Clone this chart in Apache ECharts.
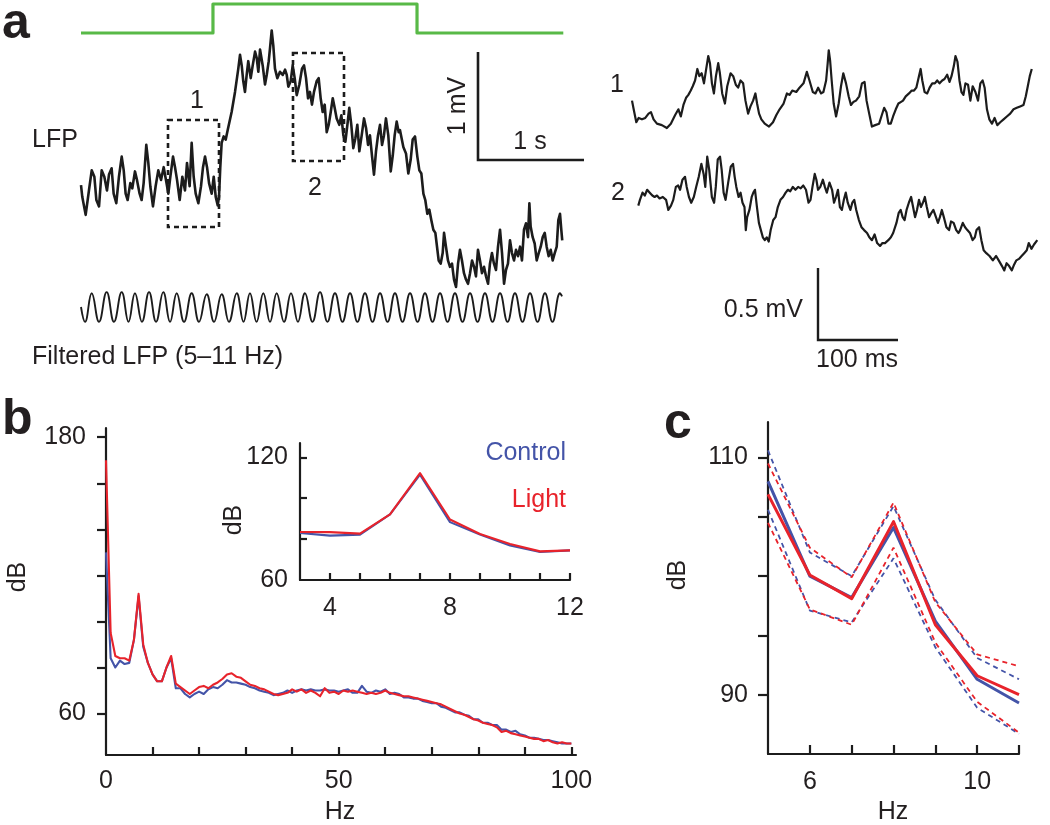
<!DOCTYPE html>
<html><head><meta charset="utf-8">
<script src="https://cdn.jsdelivr.net/npm/echarts@6/dist/echarts.min.js"></script>
<style>html,body{margin:0;padding:0;background:#fff}#c{width:1050px;height:825px}</style>
</head><body><div id="c"></div>
<script>
// ---------- DATA ----------
// Panel a: light stimulus (0 = off, 1 = on), time in s
const lightT = [0, 1.245, 1.245, 3.17, 3.17, 4.55];
const lightOn = [0, 0, 1, 1, 0, 0];
// Panel a: raw LFP, [time s, mV]
const lfpTrace = [
[0.000,0.30],[0.012,0.19],[0.044,0.02],[0.075,0.25],[0.101,0.44],[0.126,0.38],[0.145,0.16],[0.170,0.10],[0.195,0.44],[0.220,0.38],
[0.245,0.25],[0.264,0.40],[0.289,0.46],[0.308,0.22],[0.333,0.13],[0.358,0.38],[0.384,0.57],[0.403,0.44],[0.421,0.22],[0.440,0.16],
[0.465,0.32],[0.484,0.27],[0.509,0.43],[0.528,0.35],[0.553,0.22],[0.572,0.16],[0.591,0.32],[0.616,0.68],[0.635,0.51],[0.654,0.29],
[0.679,0.10],[0.704,0.29],[0.729,0.44],[0.755,0.35],[0.780,0.47],[0.805,0.33],[0.824,0.22],[0.843,0.38],[0.868,0.57],[0.887,0.47],
[0.906,0.35],[0.931,0.16],[0.956,0.38],[0.981,0.25],[1.000,0.51],[1.025,0.29],[1.044,0.70],[1.063,0.38],[1.082,0.22],[1.107,0.13],
[1.132,0.29],[1.151,0.47],[1.170,0.57],[1.189,0.47],[1.208,0.32],[1.233,0.22],[1.252,0.38],[1.271,0.19],[1.290,0.11],[1.302,0.19],
[1.314,0.47],[1.327,0.70],[1.346,0.76],[1.365,0.73],[1.384,0.82],[1.421,0.99],[1.453,1.18],[1.484,1.40],[1.500,1.53],[1.516,1.43],
[1.531,1.28],[1.547,1.18],[1.563,1.34],[1.578,1.47],[1.601,1.31],[1.620,1.43],[1.642,1.56],[1.658,1.50],[1.673,1.37],[1.689,1.58],
[1.714,1.43],[1.736,1.25],[1.752,1.34],[1.771,1.47],[1.783,1.59],[1.799,1.76],[1.814,1.62],[1.830,1.40],[1.852,1.31],[1.877,1.37],
[1.903,1.34],[1.925,1.39],[1.941,1.34],[1.956,1.23],[1.978,1.28],[1.997,1.43],[2.016,1.31],[2.035,1.15],[2.060,1.25],[2.085,1.40],
[2.104,1.43],[2.123,1.31],[2.142,1.12],[2.160,1.18],[2.179,1.06],[2.198,1.18],[2.223,1.28],[2.242,1.31],[2.261,1.12],[2.280,0.99],
[2.299,1.06],[2.318,0.80],[2.337,0.87],[2.356,0.99],[2.375,1.12],[2.393,1.03],[2.412,0.93],[2.437,0.87],[2.456,0.96],[2.475,0.77],
[2.494,0.71],[2.513,0.87],[2.531,1.03],[2.550,0.87],[2.569,0.65],[2.588,0.74],[2.607,0.87],[2.626,0.62],[2.648,0.77],[2.670,0.93],
[2.689,0.84],[2.708,0.68],[2.726,0.77],[2.745,0.58],[2.764,0.40],[2.783,0.62],[2.802,0.77],[2.821,0.87],[2.840,0.68],[2.858,0.77],
[2.877,0.93],[2.899,0.77],[2.922,0.43],[2.941,0.58],[2.959,0.77],[2.978,0.90],[2.997,0.80],[3.009,0.82],[3.041,0.66],[3.066,0.60],
[3.088,0.41],[3.110,0.54],[3.129,0.73],[3.151,0.76],[3.173,0.57],[3.192,0.44],[3.211,0.41],[3.230,0.22],[3.248,0.16],[3.267,0.03],
[3.286,0.07],[3.305,-0.03],[3.324,-0.12],[3.343,-0.15],[3.355,-0.25],[3.374,-0.41],[3.393,-0.44],[3.412,-0.34],[3.425,-0.15],[3.443,-0.28],
[3.462,-0.41],[3.481,-0.47],[3.500,-0.44],[3.519,-0.59],[3.538,-0.66],[3.557,-0.44],[3.575,-0.31],[3.594,-0.41],[3.613,-0.53],[3.632,-0.59],
[3.651,-0.63],[3.670,-0.53],[3.689,-0.41],[3.708,-0.47],[3.726,-0.56],[3.745,-0.31],[3.764,-0.41],[3.783,-0.53],[3.802,-0.47],[3.821,-0.56],
[3.840,-0.63],[3.858,-0.44],[3.877,-0.34],[3.896,-0.44],[3.915,-0.50],[3.934,-0.28],[3.953,-0.12],[3.972,-0.34],[3.991,-0.63],[4.009,-0.50],
[4.028,-0.44],[4.047,-0.22],[4.066,-0.34],[4.085,-0.41],[4.104,-0.31],[4.123,-0.37],[4.142,-0.28],[4.160,-0.41],[4.179,-0.12],[4.198,-0.06],
[4.217,-0.19],[4.230,0.13],[4.242,-0.09],[4.261,-0.19],[4.280,-0.25],[4.299,-0.41],[4.318,-0.34],[4.337,-0.28],[4.356,-0.19],[4.375,-0.15],
[4.393,-0.28],[4.412,-0.37],[4.431,-0.31],[4.450,-0.41],[4.469,-0.34],[4.488,-0.28],[4.503,-0.03],[4.519,0.03],[4.531,-0.12],[4.540,-0.22]
];
// Panel a: filtered LFP (5-11 Hz), time s / mV
const filtT = [0,0.038,0.101,0.170,0.242,0.311,0.384,0.448,0.509,0.575,0.642,0.708,0.776,0.840,0.903,0.972,1.044,1.113,1.186,1.255,
1.327,1.396,1.469,1.533,1.594,1.656,1.720,1.783,1.846,1.915,1.981,2.047,2.113,2.184,2.255,2.325,2.396,2.467,2.538,2.608,
2.679,2.750,2.821,2.892,2.962,3.033,3.104,3.175,3.245,3.316,3.387,3.458,3.528,3.599,3.670,3.741,3.811,3.882,3.953,4.024,
4.094,4.165,4.236,4.307,4.377,4.448,4.519,4.538];
const filtV = [0.00,-0.14,0.13,-0.14,0.14,-0.14,0.14,-0.14,0.13,-0.14,0.14,-0.14,0.14,-0.14,0.13,-0.14,0.13,-0.14,0.12,-0.14,
0.12,-0.14,0.13,-0.14,0.13,-0.14,0.13,-0.14,0.13,-0.14,0.13,-0.14,0.13,-0.14,0.14,-0.14,0.13,-0.14,0.13,-0.14,
0.13,-0.14,0.13,-0.14,0.13,-0.14,0.13,-0.14,0.13,-0.14,0.13,-0.14,0.13,-0.14,0.13,-0.14,0.13,-0.14,0.13,-0.14,
0.13,-0.14,0.13,-0.14,0.13,-0.14,0.13,0.10];
// Panel a right: expanded segments 1 and 2, [time ms, mV]
const seg1 = [
[0,0.19],[2.1,0.13],[5.4,0.04],[8.3,0.07],[12.5,0.06],[16.7,0.07],[20.8,0.10],[23.8,0.11],[27.1,0.06],[31.3,0.03],[37.5,0.02],[43.8,0.00],
[48.8,0.03],[54.2,0.09],[58.3,0.13],[61.3,0.08],[64.6,0.16],[67.9,0.21],[70.8,0.23],[73.8,0.26],[76.3,0.29],[79.2,0.33],[82.1,0.41],[84.6,0.36],
[87.5,0.38],[90.4,0.31],[92.9,0.40],[95.8,0.50],[97.9,0.45],[100.4,0.31],[102.9,0.24],[105.4,0.36],[108.3,0.45],[110.4,0.38],[113.3,0.24],[116.7,0.17],
[119.6,0.29],[123.8,0.38],[127.1,0.36],[130.4,0.30],[133.3,0.28],[136.3,0.33],[139.6,0.31],[142.5,0.19],[145.8,0.10],[148.8,0.15],[152.1,0.19],[155.0,0.24],
[157.1,0.17],[159.6,0.10],[162.5,0.06],[166.7,0.03],[172.1,0.01],[177.1,0.04],[181.3,0.09],[185.4,0.13],[190.4,0.17],[194.6,0.24],[197.9,0.23],[201.3,0.26],
[206.3,0.25],[210.4,0.28],[215.4,0.31],[219.6,0.39],[222.9,0.33],[227.1,0.25],[230.4,0.24],[233.8,0.28],[237.5,0.24],[240.4,0.25],[243.8,0.33],[245.8,0.45],
[247.1,0.54],[248.8,0.47],[250.8,0.33],[253.3,0.17],[256.3,0.08],[259.6,0.17],[262.5,0.29],[265.4,0.38],[268.8,0.31],[272.1,0.22],[275.0,0.16],[277.9,0.18],
[281.3,0.19],[285.4,0.22],[288.8,0.31],[292.1,0.32],[294.6,0.19],[297.9,0.10],[301.3,0.01],[305.4,0.02],[310.4,0.03],[313.8,0.09],[316.7,0.14],[319.6,0.11],
[322.1,0.03],[325.0,0.03],[327.9,0.08],[331.3,0.13],[334.6,0.17],[337.5,0.18],[340.4,0.19],[343.8,0.22],[347.9,0.24],[351.3,0.26],[354.2,0.26],[357.1,0.28],
[360.4,0.36],[362.5,0.41],[364.6,0.33],[367.5,0.25],[370.8,0.24],[373.8,0.28],[377.1,0.31],[380.4,0.31],[383.3,0.33],[386.3,0.31],[389.6,0.33],[392.5,0.34],
[395.8,0.37],[398.8,0.32],[401.3,0.36],[404.2,0.43],[406.3,0.50],[408.8,0.46],[411.3,0.33],[413.8,0.25],[416.3,0.23],[418.8,0.31],[422.1,0.30],[425.0,0.19],
[427.9,0.29],[431.3,0.25],[434.6,0.19],[437.5,0.31],[440.4,0.33],[442.9,0.28],[445.8,0.13],[448.8,0.06],[452.1,0.03],[455.4,0.07],[458.8,0.02],[462.5,0.04],
[466.7,0.06],[470.8,0.08],[475.0,0.10],[479.2,0.13],[483.3,0.14],[487.5,0.15],[491.7,0.16],[494.6,0.22],[497.1,0.29],[499.6,0.36],[502.1,0.41]
];
const seg2 = [
[0,0.47],[2.1,0.51],[5.4,0.56],[8.3,0.54],[11.3,0.58],[14.6,0.56],[17.9,0.54],[20.8,0.53],[23.8,0.54],[27.1,0.52],[31.3,0.53],[35.4,0.51],
[38.3,0.44],[41.7,0.47],[44.6,0.51],[47.9,0.60],[50.8,0.61],[53.3,0.58],[56.3,0.65],[59.6,0.67],[61.7,0.60],[64.6,0.53],[67.5,0.49],[70.8,0.53],
[73.8,0.60],[77.1,0.67],[80.4,0.76],[83.3,0.69],[85.4,0.60],[87.9,0.81],[90.4,0.72],[93.8,0.53],[96.7,0.49],[98.8,0.60],[101.3,0.79],[104.2,0.81],
[106.3,0.72],[108.8,0.56],[111.3,0.51],[114.6,0.63],[117.9,0.74],[120.8,0.76],[122.9,0.67],[125.0,0.60],[127.9,0.53],[130.4,0.56],[132.9,0.49],[135.4,0.46],
[137.1,0.30],[138.8,0.39],[141.7,0.44],[144.6,0.53],[146.7,0.56],[148.8,0.58],[151.3,0.46],[153.8,0.35],[156.3,0.30],[158.8,0.25],[161.3,0.23],[163.8,0.25],
[166.3,0.22],[168.8,0.30],[172.1,0.37],[175.0,0.39],[177.9,0.46],[181.3,0.51],[184.6,0.53],[187.9,0.56],[190.8,0.58],[193.8,0.57],[197.1,0.60],[200.4,0.58],
[203.8,0.60],[207.1,0.59],[210.4,0.61],[213.8,0.58],[217.1,0.49],[219.6,0.51],[222.1,0.60],[225.0,0.69],[227.1,0.65],[229.2,0.58],[232.1,0.60],[235.4,0.65],
[237.9,0.60],[240.4,0.56],[243.8,0.63],[247.1,0.58],[249.6,0.49],[252.1,0.53],[254.6,0.58],[257.1,0.46],[259.6,0.44],[262.1,0.51],[264.6,0.56],[267.1,0.49],
[270.4,0.44],[272.9,0.49],[275.4,0.51],[277.9,0.44],[281.3,0.37],[284.6,0.32],[287.9,0.30],[291.7,0.28],[294.6,0.25],[297.9,0.23],[301.3,0.27],[304.6,0.21],
[308.3,0.19],[311.3,0.21],[314.6,0.21],[318.8,0.23],[322.1,0.25],[325.0,0.28],[329.2,0.35],[332.1,0.42],[334.6,0.44],[337.1,0.39],[339.6,0.37],[342.1,0.44],
[345.0,0.49],[347.9,0.53],[350.4,0.46],[352.9,0.39],[355.4,0.44],[357.9,0.51],[360.4,0.46],[362.9,0.49],[365.4,0.53],[367.9,0.46],[370.8,0.39],[373.8,0.42],
[376.3,0.44],[379.6,0.39],[382.1,0.35],[384.6,0.39],[387.1,0.44],[389.6,0.39],[392.9,0.32],[396.3,0.30],[398.8,0.36],[402.1,0.35],[405.4,0.30],[408.3,0.28],
[410.4,0.30],[413.8,0.35],[416.7,0.32],[419.6,0.30],[422.9,0.28],[426.3,0.23],[429.2,0.25],[431.3,0.30],[434.6,0.32],[437.5,0.23],[440.4,0.16],[443.8,0.14],
[447.9,0.12],[452.1,0.09],[456.3,0.12],[459.6,0.09],[463.8,0.05],[466.7,0.02],[469.6,0.07],[472.9,0.05],[476.3,0.02],[479.2,0.06],[482.1,0.09],[485.4,0.10],
[488.8,0.12],[492.1,0.14],[495.4,0.16],[497.9,0.21],[501.3,0.17],[504.6,0.20],[507.1,0.21],[508.8,0.23]
];
// Panel b: power spectrum (dB), 0..100 Hz in 1 Hz steps
const controlB = [130,84,80,83,81.5,82,92,111,89,82, 77,74,74,80,84,71,71,68.5,67,68.5,
69.5,68.5,70.5,71.5,71,72.5,74.5,73.5,73.5,73, 72.5,71.5,71,70,69.5,69,68,68.5,69,70,
69,70,70.5,70,70.5,70,70,70.5,70,70, 69.5,70,70.5,69,69,72,69.5,69,70,69.5,
70.5,68.5,69,68.5,67,67,66.5,66.5,65.5,65, 64.5,64.5,63,62.5,61.5,60.5,60.5,59.5,59,57.5,
57.5,56,56,55,55,53,53,52,52.5,51, 50.5,49.5,49.5,49,48.5,48.5,48,47.5,47,47,47];
const lightB = [170,95,85,84,84,83,92,112,90,82, 77,74,74,80,85,73,71.5,70,68.5,70,
71.5,72,71,72.5,73.5,75,77,77.5,76,75.5, 74,72.5,72,71,70.5,69.5,68.5,68,68.5,69,
70.5,69.5,70.5,69,70,69,67.5,71,69,69.5, 68.5,70,69.5,70,69.5,69,68.5,69,68.5,69,
70,69,68.5,68,67.5,67.5,67,66.5,66,65.5, 65,64.5,64,63,62,61,60,59.5,58.5,57.5,
57,56,55.5,55,54,52,52.5,51.5,51,50.5, 50,49.5,49,49,48,48.5,47.5,47,47.5,47,47];
// Panel b inset: 3..12 Hz
const freqInset = [3,4,5,6,7,8,9,10,11,12];
const controlInset = [83.0,81.7,82.2,92.1,111.5,88.3,82.2,76.9,73.7,74.5];
const lightInset = [83.5,83.4,82.7,92.1,112.3,89.6,82.5,77.6,74.0,74.5];
// Panel c: 5..11 Hz, mean and bounds
const freqC = [5,6,7,8,9,10,11];
const controlC = [108.0,100.0,98.2,104.1,96.2,91.3,89.3];
const lightC = [106.9,100.1,98.1,104.6,95.9,91.6,90.0];
const controlCUpper = [110.6,102.0,100.0,105.9,98.0,93.1,91.3];
const controlCLower = [105.6,97.1,96.1,101.5,94.0,88.9,86.7];
const lightCUpper = [109.5,102.4,99.9,106.2,97.8,93.4,92.4];
const lightCLower = [104.5,97.2,95.9,102.4,94.4,89.4,86.8];
// tick labels
const bXLabels = [0,50,100], bYLabels = [60,180];
const insetXLabels = [4,8,12], insetYLabels = [60,120];
const cXLabels = [6,10], cYLabels = [90,110];

// ---------- CHART ----------
const FONT = '"Liberation Sans", Arial, Helvetica, sans-serif';
const TXT = '#231f20';
const BLUE = '#4454a8', RED = '#e8232b', GREEN = '#58b947', BLACK = '#1c1c1c';
const freqB = controlB.map((_, i) => i);
const zipXY = (xs, ys) => xs.map((x, i) => [x, ys[i]]);

const hiddenAxis = (gi, min, max) => ({gridIndex: gi, type: 'value', min, max, show: false});
function visAxis(gi, min, max, ticks, labels, inside, margin, len) {
  return {gridIndex: gi, type: 'value', min, max,
    axisLine: {show: true, lineStyle: {color: BLACK, width: 2.2}},
    axisTick: {show: true, inside, length: len, lineStyle: {color: BLACK, width: 2.2}, customValues: ticks},
    axisLabel: {show: true, customValues: labels, margin, color: TXT, fontSize: 25, fontFamily: FONT},
    splitLine: {show: false}};
}
const line = (xi, yi, data, color, width, extra) => Object.assign({
  type: 'line', xAxisIndex: xi, yAxisIndex: xi, data, showSymbol: false, symbol: 'none',
  clip: false, silent: true, animation: false,
  lineStyle: {color, width, join: 'round'}}, extra || {});

const option = {
  backgroundColor: '#fff',
  animation: false,
  grid: [
    {left: 81, top: 4, width: 487.6, height: 29},          // 0 light
    {left: 81, top: 15.6, width: 487.6, height: 296.8},    // 1 LFP
    {left: 81, top: 275.2, width: 487.6, height: 63.6},    // 2 filtered
    {left: 632, top: 41.6, width: 420, height: 86.4},      // 3 seg 1
    {left: 638.3, top: 143.7, width: 420, height: 129.6},  // 4 seg 2
    {left: 106, top: 428, width: 470, height: 327},        // 5 spectrum
    {left: 300, top: 443, width: 270, height: 137},        // 6 inset
    {left: 768, top: 422, width: 251, height: 332}         // 7 panel c
  ],
  xAxis: [
    hiddenAxis(0, 0, 4.6), hiddenAxis(1, 0, 4.6), hiddenAxis(2, 0, 4.6),
    hiddenAxis(3, 0, 525), hiddenAxis(4, 0, 525),
    visAxis(5, 0, 101, [10,20,30,40,50,60,70,80,90,100], bXLabels, true, 14, 8),
    visAxis(6, 3, 12, [4,5,6,7,8,9,10,11,12], insetXLabels, true, 16, 7),
    visAxis(7, 5, 11, [6,7,8,9,10,11], cXLabels, true, 16, 9)
  ],
  yAxis: [
    hiddenAxis(0, 0, 1), hiddenAxis(1, -0.9, 1.9), hiddenAxis(2, -0.3, 0.3),
    hiddenAxis(3, 0, 0.6), hiddenAxis(4, 0, 0.9),
    visAxis(5, 42, 184, [60,80,100,120,140,160,180], bYLabels, false, 20, 9),
    visAxis(6, 60, 127, [80,100,120], insetYLabels, true, 12, 7),
    visAxis(7, 85, 113, [90,95,100,105,110], cYLabels, false, 20, 10)
  ],
  series: [
    line(0, 0, zipXY(lightT, lightOn), GREEN, 3.2),
    line(1, 1, lfpTrace, BLACK, 2.6),
    line(2, 2, zipXY(filtT, filtV), BLACK, 1.9, {smooth: 0.45}),
    line(3, 3, seg1, BLACK, 2.2),
    line(4, 4, seg2, BLACK, 2.2),
    line(5, 5, zipXY(freqB, controlB), BLUE, 2.1),
    line(5, 5, zipXY(freqB, lightB), RED, 2.1),
    line(6, 6, zipXY(freqInset, controlInset), BLUE, 2.1),
    line(6, 6, zipXY(freqInset, lightInset), RED, 2.1),
    line(7, 7, zipXY(freqC, controlCUpper), BLUE, 1.8, {lineStyle: {color: BLUE, width: 1.8, type: [5, 4]}}),
    line(7, 7, zipXY(freqC, controlCLower), BLUE, 1.8, {lineStyle: {color: BLUE, width: 1.8, type: [5, 4]}}),
    line(7, 7, zipXY(freqC, lightCUpper), RED, 1.8, {lineStyle: {color: RED, width: 1.8, type: [5, 4]}}),
    line(7, 7, zipXY(freqC, lightCLower), RED, 1.8, {lineStyle: {color: RED, width: 1.8, type: [5, 4]}}),
    line(7, 7, zipXY(freqC, controlC), BLUE, 3),
    line(7, 7, zipXY(freqC, lightC), RED, 3)
  ],
  graphic: []
};

const T = (text, x, y, o) => Object.assign({type: 'text', x, y, silent: true,
  style: Object.assign({text, fill: TXT, font: '25px ' + FONT, align: 'left', verticalAlign: 'middle'}, (o && o.style) || {})},
  o && o.rotation ? {rotation: o.rotation} : {});
const bold = 'bold 50px ' + FONT;
const PL = (points, w, dash) => ({type: 'polyline', silent: true, shape: {points},
  style: {stroke: BLACK, lineWidth: w, fill: null, lineDash: dash || null}});
const R = (x, y, w, h) => ({type: 'rect', silent: true, shape: {x, y, width: w, height: h},
  style: {stroke: BLACK, lineWidth: 2.6, fill: null, lineDash: [5, 4]}});

option.graphic = [
  T('a', 2, 24, {style: {font: bold}}),
  T('b', 2, 420, {style: {font: bold}}),
  T('c', 664, 424, {style: {font: bold}}),
  T('LFP', 32, 140),
  T('Filtered LFP (5\u201311 Hz)', 32, 357),
  T('1', 197, 101, {style: {align: 'center'}}),
  T('2', 315, 188, {style: {align: 'center'}}),
  R(168, 120, 51, 107),
  R(293, 53, 51, 108),
  PL([[478, 52], [478, 160], [584, 160]], 2.6),
  T('1 mV', 458, 106, {rotation: Math.PI / 2, style: {align: 'center'}}),
  T('1 s', 530, 142, {style: {align: 'center'}}),
  T('1', 617, 85, {style: {align: 'center'}}),
  T('2', 618, 193, {style: {align: 'center'}}),
  PL([[818, 268], [818, 340], [898, 340]], 2.4),
  T('0.5 mV', 803, 310, {style: {align: 'right'}}),
  T('100 ms', 816, 360),
  T('dB', 18, 577, {rotation: Math.PI / 2, style: {align: 'center'}}),
  T('Hz', 340, 812, {style: {align: 'center'}}),
  T('dB', 234, 520, {rotation: Math.PI / 2, style: {align: 'center'}}),
  T('Control', 566, 453, {style: {align: 'right', fill: BLUE}}),
  T('Light', 566, 500, {style: {align: 'right', fill: RED}}),
  T('dB', 678, 575, {rotation: Math.PI / 2, style: {align: 'center'}}),
  T('Hz', 893, 812, {style: {align: 'center'}})
];

const chart = echarts.init(document.getElementById('c'), null, {renderer: 'canvas'});
chart.setOption(option);
</script></body></html>
